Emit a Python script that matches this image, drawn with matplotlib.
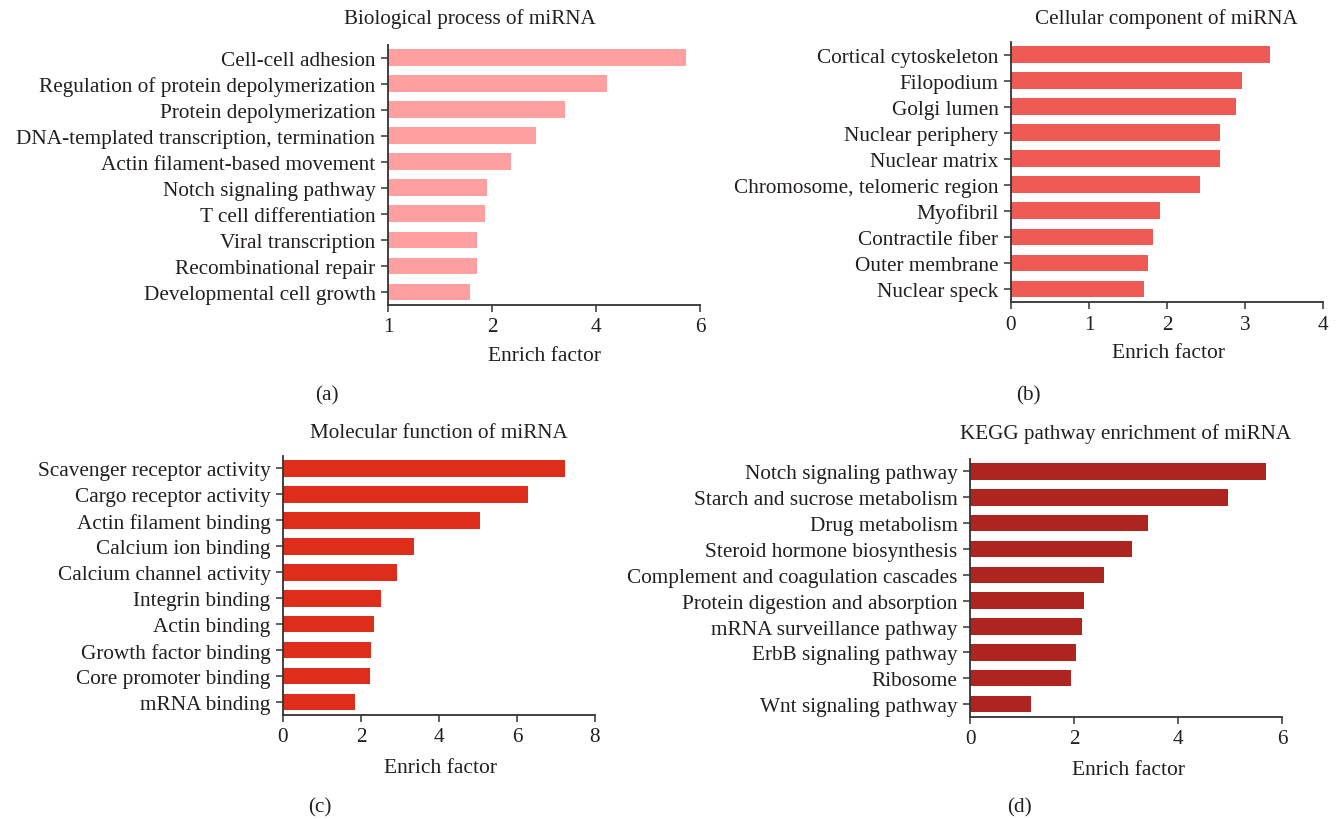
import numpy as np
import matplotlib
matplotlib.use("Agg")
import matplotlib.pyplot as plt

plt.rcParams["font.family"] = ["Liberation Serif", "DejaVu Serif"]

# ---- data ----
bp_terms = ["Cell-cell adhesion", "Regulation of protein depolymerization",
            "Protein depolymerization", "DNA-templated transcription, termination",
            "Actin filament-based movement", "Notch signaling pathway",
            "T cell differentiation", "Viral transcription",
            "Recombinational repair", "Developmental cell growth"]
bp_values = [5.73, 4.21, 3.41, 2.85, 2.37, 1.95, 1.93, 1.86, 1.86, 1.79]

cc_terms = ["Cortical cytoskeleton", "Filopodium", "Golgi lumen", "Nuclear periphery",
            "Nuclear matrix", "Chromosome, telomeric region", "Myofibril",
            "Contractile fiber", "Outer membrane", "Nuclear speck"]
cc_values = [3.32, 2.96, 2.88, 2.68, 2.68, 2.42, 1.91, 1.82, 1.75, 1.70]

mf_terms = ["Scavenger receptor activity", "Cargo receptor activity",
            "Actin filament binding", "Calcium ion binding", "Calcium channel activity",
            "Integrin binding", "Actin binding", "Growth factor binding",
            "Core promoter binding", "mRNA binding"]
mf_values = [7.22, 6.28, 5.05, 3.36, 2.92, 2.51, 2.33, 2.26, 2.23, 1.84]

kegg_terms = ["Notch signaling pathway", "Starch and sucrose metabolism",
              "Drug metabolism", "Steroid hormone biosynthesis",
              "Complement and coagulation cascades", "Protein digestion and absorption",
              "mRNA surveillance pathway", "ErbB signaling pathway", "Ribosome",
              "Wnt signaling pathway"]
kegg_values = [5.70, 4.97, 3.43, 3.12, 2.58, 2.20, 2.15, 2.04, 1.95, 1.18]

bp_ticks = [1, 2, 4, 6]
cc_ticks = [0, 1, 2, 3, 4]
mf_ticks = [0, 2, 4, 6, 8]
kegg_ticks = [0, 2, 4, 6]

W, H = 1340, 820
fig = plt.figure(figsize=(W / 100, H / 100), dpi=100)
fig.patch.set_facecolor("white")

TXT = "#231f20"
FS = 15.3


def box(left, right, top, bottom):
    return [left / W, 1 - bottom / H, (right - left) / W, (bottom - top) / H]


# equally spaced ticks 1, 2, 4, 6 on the first panel
_src = np.array([1.0, 2.0, 4.0, 6.0])
_dst = np.array([0.0, 1.0, 2.0, 3.0])


def _fwd(x):
    x = np.asarray(x, dtype=float)
    y = np.interp(x, _src, _dst)
    y = np.where(x < _src[0], (x - _src[0]) / (_src[1] - _src[0]) + _dst[0], y)
    y = np.where(x > _src[-1], (x - _src[-1]) / (_src[-1] - _src[-2]) + _dst[-1], y)
    return y


def _inv(y):
    y = np.asarray(y, dtype=float)
    x = np.interp(y, _dst, _src)
    x = np.where(y < _dst[0], (y - _dst[0]) * (_src[1] - _src[0]) + _src[0], x)
    x = np.where(y > _dst[-1], (y - _dst[-1]) * (_src[-1] - _src[-2]) + _src[-1], x)
    return x


def panel(rect, terms, values, ticks, color, base=0.0, scale=None):
    ax = fig.add_axes(rect)
    if scale is not None:
        ax.set_xscale("function", functions=scale)
    y = np.arange(len(terms))
    ax.barh(y, np.array(values) - base, left=base, height=0.64, color=color,
            edgecolor="none")
    ax.set_ylim(len(terms) - 0.5, -0.48)
    ax.set_xlim(ticks[0], ticks[-1])
    ax.set_xticks(ticks)
    ax.set_xticklabels([str(t) for t in ticks])
    ax.minorticks_off()
    ax.set_yticks(y)
    ax.set_yticklabels(terms)
    for s in ("top", "right"):
        ax.spines[s].set_visible(False)
    for s in ("left", "bottom"):
        ax.spines[s].set_color("#333333")
        ax.spines[s].set_linewidth(1.3)
    ax.tick_params(axis="both", direction="out", length=5, width=1.1,
                   color="#333333", labelcolor=TXT, labelsize=FS, pad=4)
    ax.tick_params(axis="x", pad=4)
    return ax


panel(box(388, 700, 46, 306), bp_terms, bp_values, bp_ticks, "#ff9fa0",
      base=1.0, scale=(_fwd, _inv))
panel(box(1011, 1323, 43, 303), cc_terms, cc_values, cc_ticks, "#f05a55")
panel(box(283, 595, 457, 716), mf_terms, mf_values, mf_ticks, "#de2e1b")
panel(box(970, 1282, 460, 718), kegg_terms, kegg_values, kegg_ticks, "#ae251f")


def ftext(x, y, s, size=FS):
    fig.text(x / W, 1 - y / H, s, ha="center", va="center", fontsize=size, color=TXT)


TS = 15.2
ftext(470, 19, "Biological process of miRNA", TS)
ftext(1166, 19, "Cellular component of miRNA", TS)
ftext(439, 434, "Molecular function of miRNA", TS)
ftext(1126, 434, "KEGG pathway enrichment of miRNA", TS)

XS = 15.5
ftext(545, 357, "Enrich factor", XS)
ftext(1168, 354, "Enrich factor", XS)
ftext(441, 769, "Enrich factor", XS)
ftext(1128, 771, "Enrich factor", XS)

ftext(327, 396, "(a)")
ftext(1028, 396, "(b)")
ftext(320, 808, "(c)")
ftext(1019, 808, "(d)")

fig.savefig("out.png", dpi=100, facecolor="white")
